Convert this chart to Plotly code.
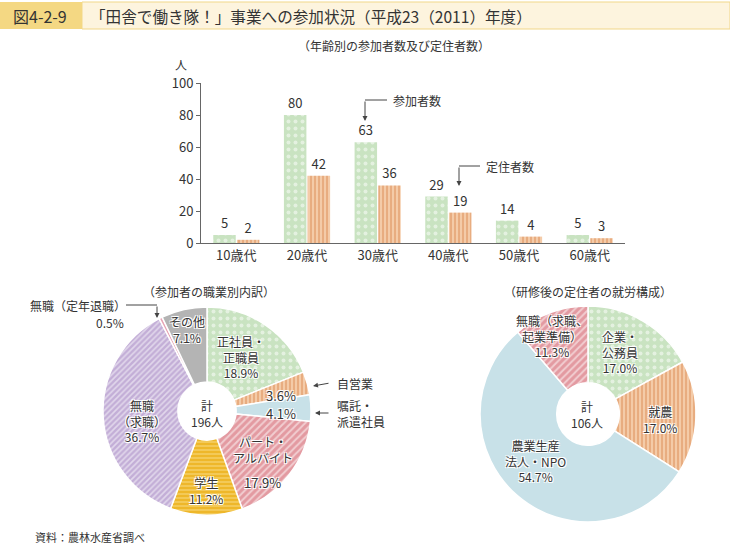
import plotly.graph_objects as go

W, H = 730, 544
FONT = "Noto Sans CJK JP"
TXT = "#333333"

# ---- data ----
age_groups = ["10歳代", "20歳代", "30歳代", "40歳代", "50歳代", "60歳代"]
participants = [5, 80, 63, 29, 14, 5]
settlers = [2, 42, 36, 19, 4, 3]
y_ticks = [0, 20, 40, 60, 80, 100]

occ_labels = ["正社員・正職員", "自営業", "嘱託・派遣社員", "パート・アルバイト",
              "学生", "無職（求職）", "無職（定年退職）", "その他"]
occ_values = [18.9, 3.6, 4.1, 17.9, 11.2, 36.7, 0.5, 7.1]

work_labels = ["企業・公務員", "就農", "農業生産法人・NPO", "無職（求職、起業準備）"]
work_values = [17.0, 17.0, 54.7, 11.3]


def px(x):
    return x / W


def py(y):
    return 1 - y / H


GREEN_BG, GREEN_FG = "#c9e3c1", "#ffffff"
ORANGE_BG, ORANGE_FG = "#f4cba8", "#d98850"
BLUE = "#c8e1e8"
PINK_BG, PINK_FG = "#e39aa1", "#ffffff"
YELLOW_BG, YELLOW_FG = "#eeb72a", "#f9e08e"
PURPLE_BG, PURPLE_FG = "#c3aed7", "#ffffff"
GRAY = "#b4b4b4"
PINK2 = "#e8a3b4"

fig = go.Figure()

# ---- bar chart ----
fig.add_trace(go.Bar(
    x=age_groups, y=participants, name="参加者数",
    marker=dict(color=GREEN_BG, line=dict(width=0),
                pattern=dict(shape=".", bgcolor=GREEN_BG, fgcolor=GREEN_FG,
                             fillmode="overlay", size=7, solidity=0.25)),
    text=participants, textposition="outside", cliponaxis=False,
    textfont=dict(size=13, color=TXT, family=FONT),
    xaxis="x", yaxis="y",
))
fig.add_trace(go.Bar(
    x=age_groups, y=settlers, name="定住者数",
    marker=dict(color=ORANGE_BG, line=dict(width=0),
                pattern=dict(shape="|", bgcolor=ORANGE_BG, fgcolor=ORANGE_FG,
                             fillmode="overlay", size=4, solidity=0.45)),
    text=settlers, textposition="outside", cliponaxis=False,
    textfont=dict(size=13, color=TXT, family=FONT),
    xaxis="x", yaxis="y",
))

# ---- left donut ----
left_colors = [GREEN_BG, ORANGE_BG, BLUE, PINK_BG, YELLOW_BG, PURPLE_BG, PINK2, GRAY]
fig.add_trace(go.Pie(
    labels=occ_labels, values=occ_values, sort=False, direction="clockwise",
    rotation=0, hole=0.28, textinfo="none", hoverinfo="label+percent",
    domain=dict(x=[px(103), px(311)], y=[py(515), py(307)]),
    marker=dict(
        colors=left_colors,
        line=dict(color="white", width=1.5),
        pattern=dict(
            shape=[".", "|", "", "/", "-", "/", "", ""],
            bgcolor=left_colors,
            fgcolor=[GREEN_FG, ORANGE_FG, BLUE, PINK_FG, YELLOW_FG, PURPLE_FG, PINK2, GRAY],
            fillmode="overlay", size=[7, 4, 4, 5, 4, 4, 4, 4],
            solidity=[0.25, 0.45, 0.3, 0.4, 0.45, 0.4, 0.3, 0.3],
        ),
    ),
    showlegend=False,
))

# ---- right donut ----
right_colors = [GREEN_BG, ORANGE_BG, BLUE, PINK_BG]
fig.add_trace(go.Pie(
    labels=work_labels, values=work_values, sort=False, direction="clockwise",
    rotation=0, hole=0.29, textinfo="none", hoverinfo="label+percent",
    domain=dict(x=[px(480), px(696)], y=[py(522), py(306)]),
    marker=dict(
        colors=right_colors,
        line=dict(color="white", width=1.5),
        pattern=dict(
            shape=[".", "|", "", "/"],
            bgcolor=right_colors,
            fgcolor=[GREEN_FG, ORANGE_FG, BLUE, PINK_FG],
            fillmode="overlay", size=[7, 4, 4, 5],
            solidity=[0.25, 0.45, 0.3, 0.4],
        ),
    ),
    showlegend=False,
))

# ---- shapes: header and leader lines ----
shapes = [
    dict(type="rect", xref="paper", yref="paper", x0=px(82), x1=1, y0=py(29), y1=py(2),
         fillcolor="#fdf4de", line=dict(color="#f1d789", width=1), layer="below"),
    dict(type="rect", xref="paper", yref="paper", x0=0, x1=px(82), y0=py(29), y1=py(2),
         fillcolor="#f4d883", line=dict(width=0), layer="below"),
    dict(type="line", xref="paper", yref="paper", x0=px(365), x1=px(387), y0=py(100), y1=py(100),
         line=dict(color="#444", width=1)),
    dict(type="line", xref="paper", yref="paper", x0=px(459), x1=px(480), y0=py(166), y1=py(166),
         line=dict(color="#444", width=1)),
    dict(type="line", xref="paper", yref="paper", x0=px(126), x1=px(157), y0=py(305), y1=py(305),
         line=dict(color="#444", width=1)),
]

HALO = "1px 1px 0px #fff, -1px -1px 0px #fff, 1px -1px 0px #fff, -1px 1px 0px #fff"


def ann(x, y, text, size=12, xanchor="center", shadow=None, align="center"):
    d = dict(xref="paper", yref="paper", x=px(x), y=py(y), text=text, showarrow=False,
             xanchor=xanchor, yanchor="middle", align=align,
             font=dict(family=FONT, size=size, color=TXT))
    if shadow:
        d["font"]["shadow"] = shadow
    return d


def arrow(x, y, ax, ay):
    return dict(xref="paper", yref="paper", x=px(x), y=py(y), text="", showarrow=True,
                ax=ax, ay=ay, arrowhead=2, arrowsize=1, arrowwidth=1, arrowcolor="#444")


annotations = [
    ann(40, 16, "図4-2-9", size=16),
    ann(88, 16, "「田舎で働き隊！」事業への参加状況（平成23（2011）年度）", size=15.6, xanchor="left"),
    ann(394, 45, "（年齢別の参加者数及び定住者数）", size=12),
    ann(181, 64, "人", size=12),
    ann(391, 100, "参加者数", size=12, xanchor="left"),
    ann(484, 166, "定住者数", size=12, xanchor="left"),
    arrow(365, 121, 0, -21),
    arrow(459, 186, 0, -20),
    ann(209, 291, "（参加者の職業別内訳）", size=12),
    ann(588, 291, "（研修後の定住者の就労構成）", size=12),
    ann(78, 305, "無職（定年退職）", size=12),
    ann(110, 322, "0.5%", size=12),
    arrow(157, 318, 0, -13),
    ann(335, 383, "自営業", size=12, xanchor="left"),
    arrow(313, 386, 17, -3),
    ann(335, 413, "嘱託・<br>派遣社員", size=12, xanchor="left", align="left"),
    arrow(315, 413, 15, 0),
    # left donut labels
    ann(187, 329, "その他<br>7.1%", shadow=HALO),
    ann(241, 357, "正社員・<br>正職員<br>18.9%", shadow=HALO),
    ann(281, 395, "3.6%", size=13, shadow=HALO),
    ann(281, 413, "4.1%", size=13, shadow=HALO),
    ann(263, 449, "パート・<br>アルバイト", shadow=HALO),
    ann(262, 482, "17.9%", size=13, shadow=HALO),
    ann(206, 490, "学生<br>11.2%", shadow=HALO),
    ann(142, 421, "無職<br>（求職）<br>36.7%", shadow=HALO),
    ann(207, 413, "計<br>196人", size=12),
    # right donut labels
    ann(552, 336, "無職（求職、<br>起業準備）<br>11.3%", shadow=HALO),
    ann(620, 352, "企業・<br>公務員<br>17.0%", shadow=HALO),
    ann(660, 419, "就農<br>17.0%", size=12, shadow=HALO),
    ann(587, 414, "計<br>106人", size=12),
    ann(535, 461, "農業生産<br>法人・NPO<br>54.7%", shadow=HALO),
    ann(33, 537, "資料：農林水産省調べ", size=11, xanchor="left"),
]

fig.update_layout(
    width=W, height=H, autosize=False,
    margin=dict(l=0, r=0, t=0, b=0, pad=0, autoexpand=False),
    paper_bgcolor="white", plot_bgcolor="white",
    font=dict(family=FONT, color=TXT),
    showlegend=False,
    barmode="group", bargap=0.33, bargroupgap=0.05,
    xaxis=dict(domain=[px(201), px(625)], showline=True, linecolor="#666", linewidth=1,
               ticks="", tickfont=dict(size=13, color=TXT, family=FONT), showgrid=False,
               fixedrange=True),
    yaxis=dict(domain=[py(243), py(83)], range=[0, 100], tickvals=y_ticks,
               showline=True, linecolor="#666", linewidth=1, ticks="outside", ticklen=4,
               tickcolor="#666", tickfont=dict(size=13, color=TXT, family=FONT),
               showgrid=False, zeroline=False, fixedrange=True),
    shapes=shapes,
    annotations=annotations,
)

fig.write_html(
    "out.html",
    config={"displayModeBar": False},
    post_script="document.body.style.margin='0';document.body.style.padding='0';"
                "document.body.style.overflow='hidden';",
)
